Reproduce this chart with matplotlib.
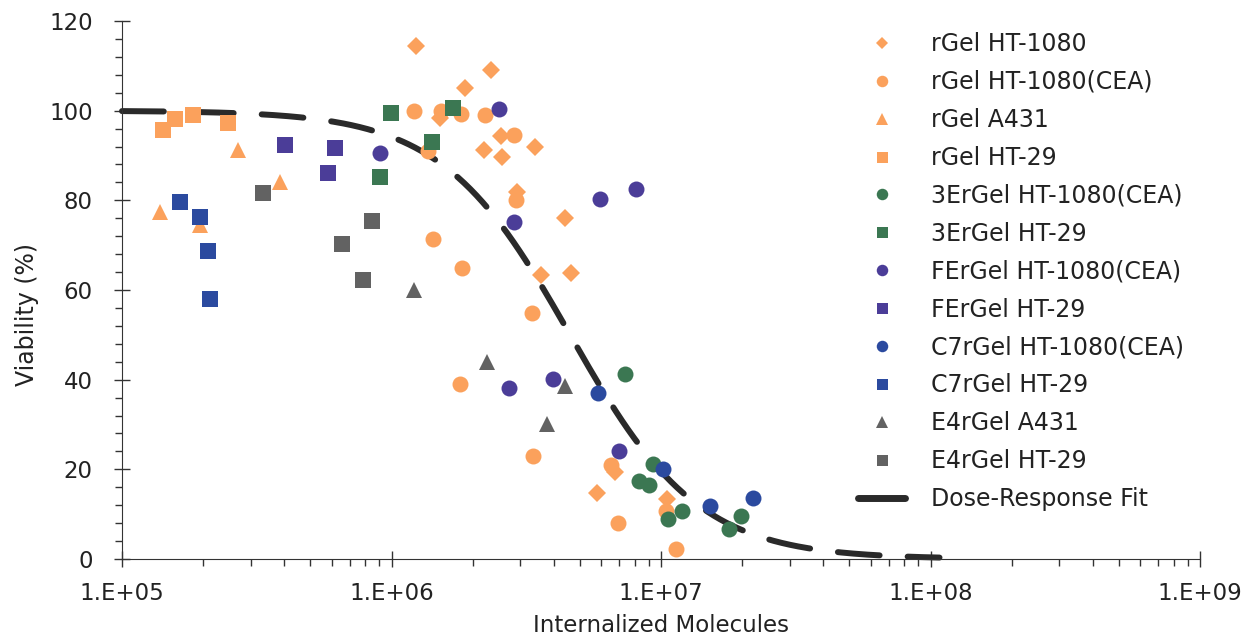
import numpy as np
import matplotlib
matplotlib.use('Agg')
import matplotlib.pyplot as plt
from matplotlib.ticker import FixedLocator, FuncFormatter, MultipleLocator
from matplotlib.lines import Line2D

plt.rcParams['font.family'] = ['DejaVu Sans']

# data: (internalized molecules, viability %)
rgel_ht1080_x = [1.23e6, 2.33e6, 1.87e6, 1.51e6, 2.55e6, 2.21e6, 2.58e6, 3.40e6, 2.93e6,
                 4.41e6, 3.59e6, 4.64e6, 5.77e6, 6.77e6, 1.05e7]
rgel_ht1080_y = [114.4, 109.1, 105.0, 98.4, 94.4, 91.2, 89.6, 92.0, 81.9,
                 76.1, 63.3, 63.9, 14.8, 19.5, 13.3]

rgel_cea_x = [1.21e6, 1.52e6, 1.81e6, 2.23e6, 2.84e6, 2.90e6, 1.37e6, 1.43e6, 1.82e6,
              3.31e6, 1.80e6, 3.36e6, 6.54e6, 6.92e6, 1.04e7, 1.14e7]
rgel_cea_y = [99.9, 100.0, 99.3, 99.0, 94.6, 80.1, 91.0, 71.4, 65.0,
              54.9, 39.0, 23.0, 21.0, 8.1, 10.8, 2.3]

rgel_a431_x = [1.38e5, 2.70e5, 3.86e5, 1.95e5]
rgel_a431_y = [77.5, 91.2, 84.0, 74.5]

rgel_ht29_x = [1.42e5, 1.57e5, 1.83e5, 2.48e5]
rgel_ht29_y = [95.7, 98.2, 99.0, 97.2]

er3_cea_x = [7.38e6, 9.31e6, 8.30e6, 9.0e6, 1.20e7, 1.06e7, 1.98e7, 1.79e7]
er3_cea_y = [41.3, 21.2, 17.4, 16.4, 10.8, 8.9, 9.5, 6.8]

er3_ht29_x = [9.96e5, 1.41e6, 9.06e5, 1.69e6]
er3_ht29_y = [99.4, 93.1, 85.3, 100.5]

fer_cea_x = [9.06e5, 2.51e6, 2.86e6, 5.94e6, 8.07e6, 2.74e6, 3.96e6, 7.0e6]
fer_cea_y = [90.5, 100.4, 75.2, 80.2, 82.5, 38.2, 40.1, 24.1]

fer_ht29_x = [4.04e5, 6.17e5, 5.83e5]
fer_ht29_y = [92.3, 91.6, 86.2]

c7_cea_x = [5.82e6, 1.02e7, 1.52e7, 2.20e7]
c7_cea_y = [37.1, 20.0, 11.9, 13.5]

c7_ht29_x = [1.64e5, 1.94e5, 2.09e5, 2.12e5]
c7_ht29_y = [79.7, 76.2, 68.7, 57.9]

e4_a431_x = [1.21e6, 2.26e6, 4.41e6, 3.77e6]
e4_a431_y = [60.0, 44.0, 38.6, 30.1]

e4_ht29_x = [3.34e5, 8.45e5, 6.53e5, 7.81e5]
e4_ht29_y = [81.7, 75.4, 70.2, 62.2]

# dose-response fit parameters
ec50 = 4.6e6
hill = 1.82
fit_start, fit_end = 1e5, 1.08e8

orange = '#fba15c'
green = '#3b7752'
purple = '#4b3d98'
blue = '#2b4a9f'
grey = '#626262'

series = [
    ('rGel HT-1080', rgel_ht1080_x, rgel_ht1080_y, 'D', orange, 9),
    ('rGel HT-1080(CEA)', rgel_cea_x, rgel_cea_y, 'o', orange, 11.5),
    ('rGel A431', rgel_a431_x, rgel_a431_y, '^', orange, 12),
    ('rGel HT-29', rgel_ht29_x, rgel_ht29_y, 's', orange, 11),
    ('3ErGel HT-1080(CEA)', er3_cea_x, er3_cea_y, 'o', green, 11.5),
    ('3ErGel HT-29', er3_ht29_x, er3_ht29_y, 's', green, 11),
    ('FErGel HT-1080(CEA)', fer_cea_x, fer_cea_y, 'o', purple, 11.5),
    ('FErGel HT-29', fer_ht29_x, fer_ht29_y, 's', purple, 11),
    ('C7rGel HT-1080(CEA)', c7_cea_x, c7_cea_y, 'o', blue, 11.5),
    ('C7rGel HT-29', c7_ht29_x, c7_ht29_y, 's', blue, 11),
    ('E4rGel A431', e4_a431_x, e4_a431_y, '^', grey, 12),
    ('E4rGel HT-29', e4_ht29_x, e4_ht29_y, 's', grey, 11),
]

fig = plt.figure(figsize=(12.52, 6.39), dpi=100)
ax = fig.add_axes([122/1252, 1-559/639, (1200-122)/1252, (559-21)/639])

xf = np.logspace(np.log10(fit_start), np.log10(fit_end), 400)
yf = 100 / (1 + (xf/ec50)**hill)
ax.plot(xf, yf, color='#2a2a2a', lw=4.3, dashes=(7, 4.7),
        dash_capstyle='round', zorder=2, clip_on=False)

handles = []
for name, xs, ys, mk, col, ms in series:
    ax.plot(xs, ys, linestyle='none', marker=mk, color=col, markersize=ms,
            markeredgewidth=0, zorder=3)
    handles.append(Line2D([], [], linestyle='none', marker=mk, color=col,
                          markersize=ms*0.72, markeredgewidth=0, label=name))
handles.append(Line2D([], [], color='#2a2a2a', lw=5, solid_capstyle='round',
                      label='Dose-Response Fit'))

ax.set_xscale('log')
ax.set_xlim(1e5, 1e9)
ax.set_ylim(0, 120)

ax.spines['top'].set_visible(False)
ax.spines['right'].set_visible(False)
ax.spines['left'].set_color('#333333')
ax.spines['bottom'].set_color('#333333')

ax.xaxis.set_major_locator(FixedLocator([1e5, 1e6, 1e7, 1e8, 1e9]))
ax.xaxis.set_major_formatter(FuncFormatter(lambda v, p: '1.E+%02d' % round(np.log10(v))))
ax.yaxis.set_major_locator(MultipleLocator(20))
ax.yaxis.set_minor_locator(MultipleLocator(4))

ax.tick_params(axis='both', which='major', direction='inout', length=11, width=1,
               color='#333333', labelsize=16.5, labelcolor='#222222')
ax.tick_params(axis='both', which='minor', direction='out', length=5, width=1,
               color='#333333')
ax.tick_params(axis='x', which='major', pad=11)
ax.tick_params(axis='y', which='major', pad=15.5)

ax.set_xlabel('Internalized Molecules', fontsize=16.5, color='#222222')
ax.set_ylabel('Viability (%)', fontsize=17, color='#222222')
ax.xaxis.set_label_coords(0.5, (559-614)/538)
ax.yaxis.set_label_coords((39-122)/1078, (559-315)/538)

fig.legend(handles=handles, loc='upper left', bbox_to_anchor=(858/1252, 1-32/639),
           frameon=False, fontsize=17, handlelength=2.0, handletextpad=1.1,
           labelspacing=0.59, borderaxespad=0, borderpad=0, labelcolor='#222222')

fig.savefig('out.png', dpi=100)
